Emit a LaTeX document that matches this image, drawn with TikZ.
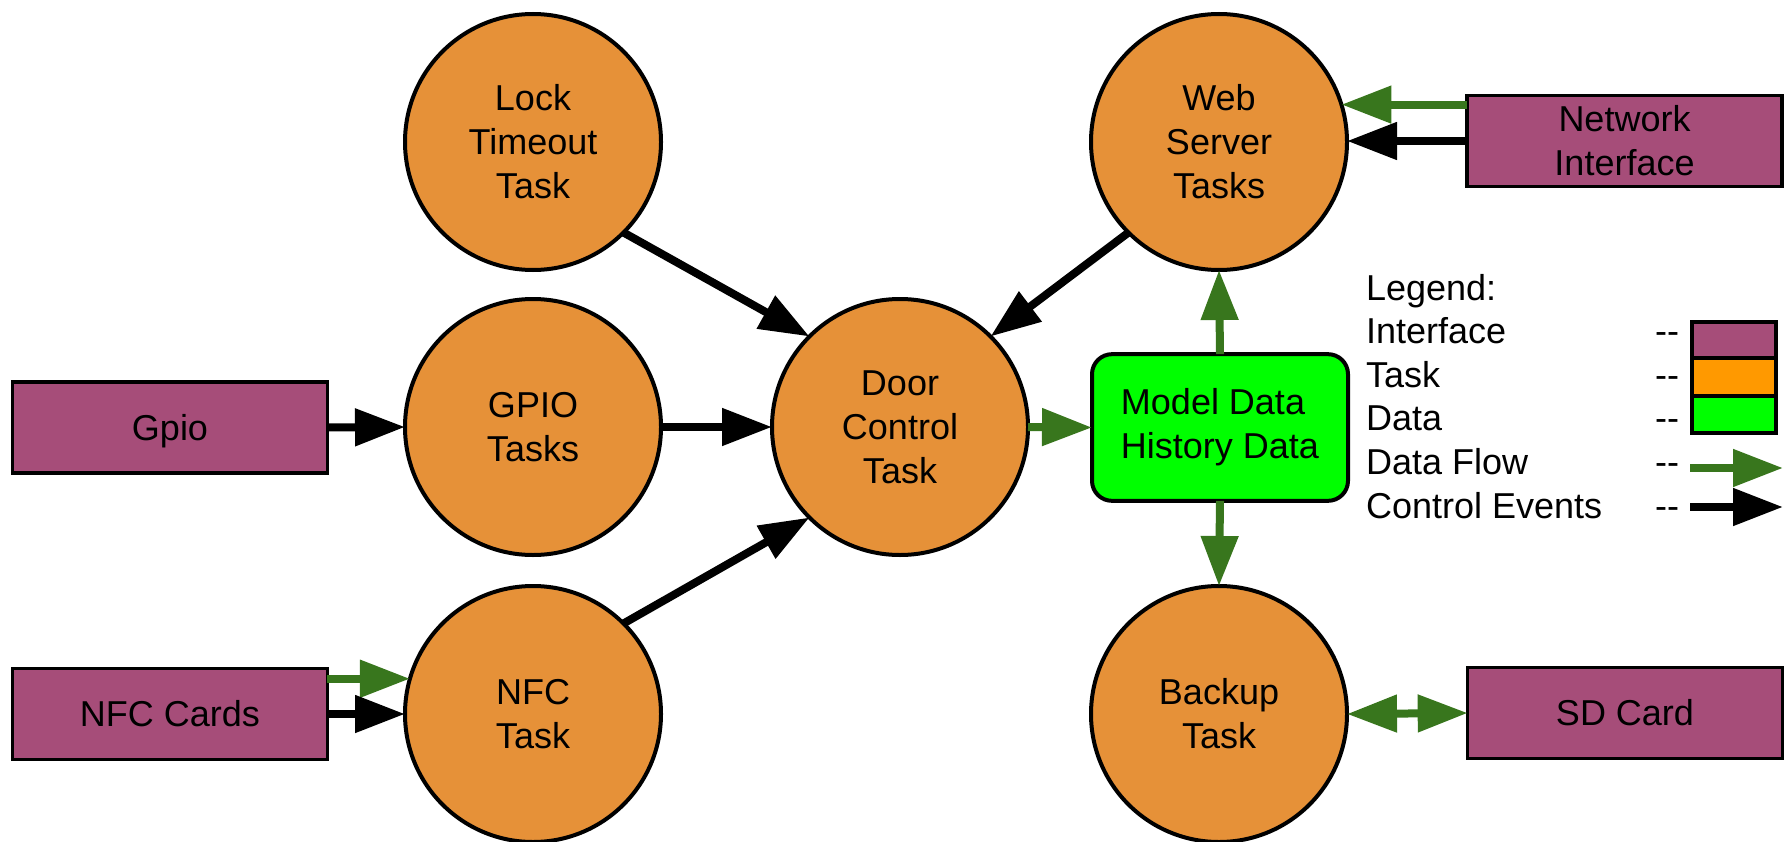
\documentclass[tikz,border=0pt]{standalone}
\usepackage{fontspec}
\setmainfont{Liberation Sans}
\usetikzlibrary{arrows.meta}
\definecolor{ifacecol}{HTML}{A64D79}
\definecolor{taskcol}{HTML}{E69138}
\definecolor{tasklg}{HTML}{FF9900}
\definecolor{datacol}{HTML}{00FF00}
\definecolor{flowcol}{HTML}{38761D}
\begin{document}
\begin{tikzpicture}[x=0.75pt,y=-0.75pt,
  every node/.style={font=\fontsize{27}{33}\selectfont, inner sep=0pt, outer sep=0pt},
  task/.style={circle, draw=black, line width=3pt, fill=taskcol, minimum size=192pt, align=center},
  ibox/.style={rectangle, draw=black, line width=2.6pt, fill=ifacecol, minimum width=236pt, minimum height=68.5pt, align=center},
  dbox/.style={rectangle, rounded corners=15pt, draw=black, line width=3pt, fill=datacol, minimum width=192pt, minimum height=110pt, align=left},
  ctrl/.style={line width=6pt, draw=black, -{Triangle[length=37.5pt,width=27pt]}},
  flowa/.style={line width=6pt, draw=flowcol, -{Triangle[length=37.5pt,width=27pt]}},
  dflow/.style={line width=6pt, draw=flowcol, {Triangle[length=37.5pt,width=27pt]}-{Triangle[length=37.5pt,width=27pt]}},
  lgtext/.style={anchor=base west},
  swatch/.style={line width=2.6pt, draw=black}
]
\useasboundingbox (0,0) rectangle (1785,842);

% tasks
\node[task] (lock) at (533,142) {Lock\\Timeout\\Task};
\node[task] (gpio) at (533,427) {GPIO\\Tasks};
\node[task] (nfc) at (533,714) {NFC\\Task};
\node[task] (door) at (900,427) {Door\\Control\\Task};
\node[task] (web) at (1219,142) {Web\\Server\\Tasks};
\node[task] (backup) at (1219,714) {Backup\\Task};

% interfaces
\node[ibox, text depth=0pt] (gpiobox) at (170,427.5) {Gpio};
\node[ibox] (cards) at (170,714) {NFC Cards};
\node[ibox] (net) at (1624.5,141) {Network\\Interface};
\node[ibox] (sd) at (1625,713) {SD Card};

% data
\node[dbox] (data) at (1220,427.5) {Model Data\\History Data};

% connectors
\draw[ctrl] (lock.-45) -- (door.135);
\draw[ctrl] (web.-135) -- (door.45);
\draw[ctrl] (nfc.45) -- (door.-135);
\draw[ctrl] (gpiobox.east) -- (gpio.west);
\draw[ctrl] (gpio.east) -- (door.west);
\draw[flowa] (door.east) -- (data.west);
\draw[flowa] (data.north) -- (web.south);
\draw[flowa] (data.south) -- (backup.north);
\draw[flowa] (net.west |- web.17) -- (web.17);
\draw[ctrl] (net.west) -- (net.west -| web.east);
\draw[flowa] (nfc.164 -| cards.east) -- (nfc.164);
\draw[ctrl] (cards.east) -- (nfc.west);
\draw[dflow] (backup.east) -- (sd.west);

% legend
\node[lgtext] (lg0) at (1366,300) {Legend:};
\node[lgtext] (lg1) at (1366,343.6) {Interface};
\node[lgtext] (lg2) at (1366,387.2) {Task};
\node[lgtext] (lg3) at (1366,430.8) {Data};
\node[lgtext] (lg4) at (1366,474.4) {Data Flow};
\node[lgtext] (lg5) at (1366,518) {Control Events};
\node[lgtext] (d1) at (1655,343.6) {-{}-};
\node[lgtext] (d2) at (1655,387.2) {-{}-};
\node[lgtext] (d3) at (1655,430.8) {-{}-};
\node[lgtext] (d4) at (1655,474.4) {-{}-};
\node[lgtext] (d5) at (1655,518) {-{}-};
\draw[swatch, fill=ifacecol] (1692,322) rectangle (1776,358);
\draw[swatch, fill=tasklg] (1692,358) rectangle (1776,396);
\draw[swatch, fill=datacol] (1692,396) rectangle (1776,433);
\coordinate (fa) at (1690,468);
\coordinate (fb) at (1783,468);
\coordinate (ca) at (1690,507);
\coordinate (cb) at (1783,507);
\draw[flowa] (fa) -- (fb);
\draw[ctrl] (ca) -- (cb);
\end{tikzpicture}
\end{document}
